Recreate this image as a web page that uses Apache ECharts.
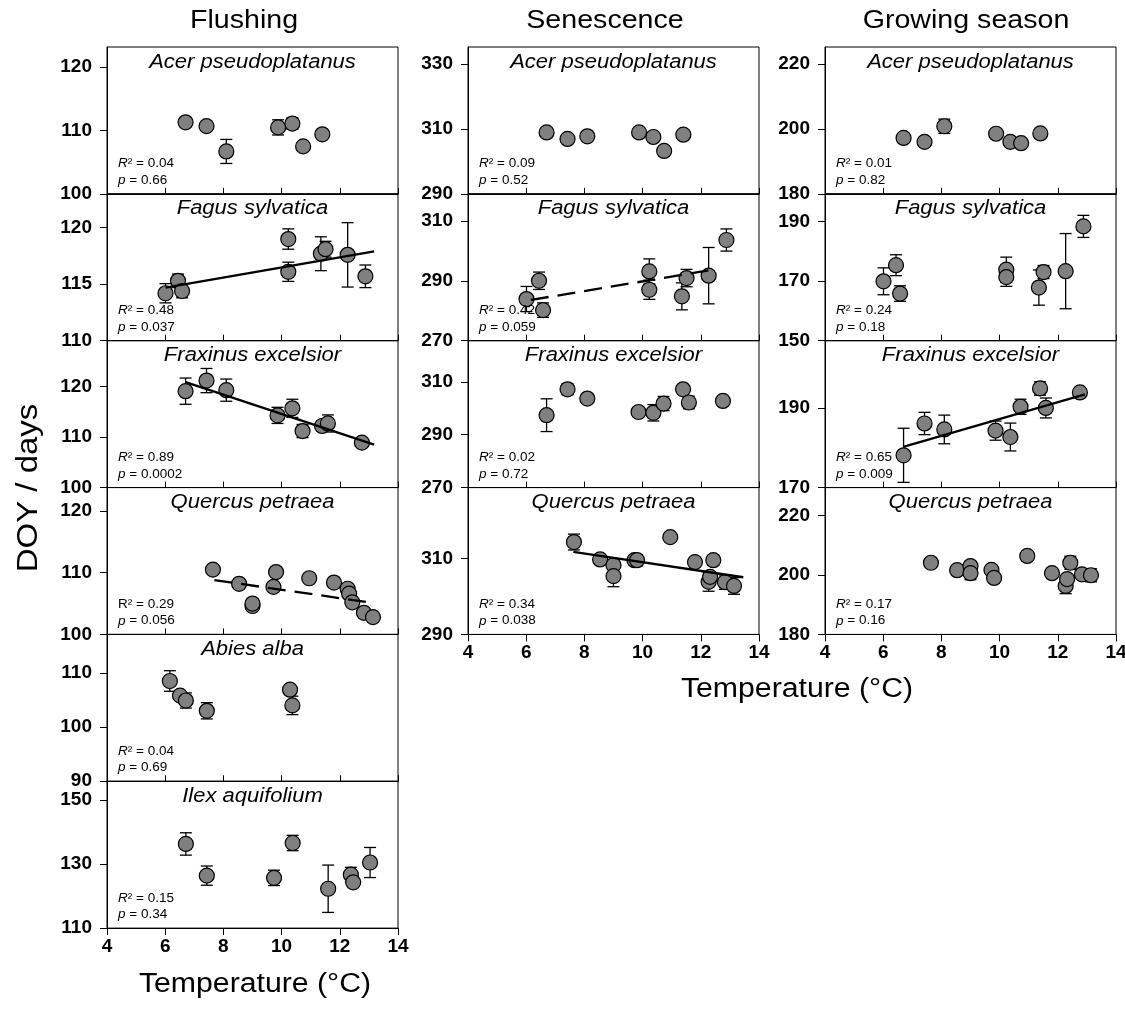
<!DOCTYPE html>
<html>
<head>
<meta charset="utf-8">
<script src="https://cdn.jsdelivr.net/npm/echarts@6/dist/echarts.min.js"></script>
<style>
  html, body { margin: 0; padding: 0; background: #fff; }
  #chart { width: 1125px; height: 1014px; }
</style>
</head>
<body>
<div id="chart"></div>
<script>
// ---------- data: mean temperature per site (°C) and mean DOY ± error ----------
const phases = ['Flushing', 'Senescence', 'Growing season'];

const acerTemp     = [6.7, 7.42, 8.1, 9.88, 10.37, 10.74, 11.4];
const fagusTemp    = [6.01, 6.44, 6.58, 10.23, 10.23, 11.35, 11.51, 12.27, 12.88];
const fraxinusTemp = [6.7, 7.42, 8.1, 9.86, 10.37, 10.72, 11.39, 11.59, 12.76];
const quercusTemp  = [7.64, 8.54, 9.0, 9.0, 9.72, 9.81, 10.95, 11.8, 12.27, 12.32, 12.43, 12.83, 13.14];
const abiesTemp    = [6.16, 6.51, 6.71, 7.43, 10.29, 10.37];
const ilexTemp     = [6.71, 7.43, 9.74, 10.38, 11.6, 12.38, 12.46, 13.04];

// Flushing
const flushAcer      = [111.3, 110.7, 106.7, 110.5, 111.1, 107.5, 109.4];
const flushAcerErr   = [0.7, 0.4, 1.9, 1.2, 0.9, 0.5, 0.5];
const flushFagus     = [114.2, 115.3, 114.4, 119.0, 116.1, 117.7, 118.1, 117.6, 115.7];
const flushFagusErr  = [0.85, 0.6, 0.6, 0.9, 0.85, 1.5, 0.7, 2.85, 1.0];
const flushFraxinus    = [119.1, 121.2, 119.3, 114.3, 115.7, 111.2, 112.2, 112.7, 108.9];
const flushFraxinusErr = [2.6, 2.4, 2.2, 1.6, 1.8, 1.3, 0.8, 1.7, 0.5];
const flushQuercus     = [110.5, 108.2, 104.6, 105.0, 107.7, 110.1, 109.1, 108.4, 107.4, 106.6, 105.2, 103.5, 102.8];
const flushQuercusErr  = [0.4, 0.4, 0.4, 0.4, 0.4, 0.4, 0.4, 0.4, 0.4, 0.4, 0.4, 0.4, 0.4];
const flushAbies     = [108.5, 105.8, 104.9, 103.0, 106.9, 104.0];
const flushAbiesErr  = [1.9, 0.7, 1.4, 1.5, 0.5, 1.7];
const flushIlex      = [136.3, 126.4, 125.7, 136.6, 122.3, 126.7, 124.3, 130.5];
const flushIlexErr   = [3.5, 3.0, 2.4, 2.4, 7.4, 2.3, 1.0, 4.7];

// Senescence
const senAcer        = [308.9, 306.9, 307.7, 308.9, 307.5, 303.2, 308.2];
const senAcerErr     = [0.6, 0.6, 0.6, 0.6, 0.6, 0.6, 0.6];
const senFagus       = [283.9, 290.0, 280.2, 293.1, 287.0, 284.8, 290.9, 291.7, 303.6];
const senFagusErr    = [4.2, 2.9, 2.4, 4.2, 3.2, 4.5, 2.9, 9.4, 3.7];
const senFraxinus    = [297.4, 307.2, 303.7, 298.6, 298.3, 301.8, 307.2, 302.2, 302.8];
const senFraxinusErr = [6.2, 2.1, 1.2, 1.0, 3.1, 2.7, 0.7, 2.4, 0.5];
const senQuercus     = [314.4, 309.8, 308.3, 305.4, 309.6, 309.6, 315.7, 309.1, 303.9, 305.2, 309.6, 303.8, 302.8];
const senQuercusErr  = [2.1, 0.8, 0.8, 2.8, 0.8, 1.5, 1.0, 0.8, 2.5, 0.8, 1.3, 1.9, 2.2];

// Growing season length
const growAcer        = [197.2, 196.0, 200.8, 198.5, 196.0, 195.6, 198.6];
const growAcerErr     = [0.6, 0.6, 2.2, 1.0, 0.6, 0.6, 0.6];
const growFagus       = [169.9, 175.3, 165.8, 173.8, 171.3, 167.8, 173.0, 173.3, 188.3];
const growFagusErr    = [4.5, 3.5, 2.6, 4.2, 3.1, 5.9, 2.2, 12.6, 3.7];
const growFraxinus    = [178.1, 186.1, 184.6, 184.3, 182.7, 190.3, 194.9, 190.0, 193.9];
const growFraxinusErr = [6.8, 2.8, 3.6, 2.4, 3.5, 1.9, 1.7, 2.5, 1.0];
const growQuercus     = [204.1, 201.6, 203.0, 200.6, 201.7, 199.0, 206.4, 200.6, 196.3, 198.6, 204.1, 200.2, 199.9];
const growQuercusErr  = [1.5, 0.6, 1.3, 2.2, 0.6, 0.6, 0.6, 0.6, 2.6, 1.0, 2.2, 0.6, 2.2];

// Regression lines (end points) and their statistics
const fitFlushFagus    = [[6.01, 114.7], [13.18, 117.9]];
const fitFlushFraxinus = [[6.7, 120.9], [13.18, 108.5]];
const fitFlushQuercus  = [[7.69, 108.8], [13.15, 105.1]];
const fitSenFagus      = [[6.16, 283.6], [12.55, 293.9]];
const fitSenQuercus    = [[7.62, 311.8], [13.46, 305.1]];
const fitGrowFraxinus  = [[6.69, 180.2], [12.93, 193.4]];

const flushStats = [['0.04', '0.66'], ['0.48', '0.037'], ['0.89', '0.0002'], ['0.29', '0.056'], ['0.04', '0.69'], ['0.15', '0.34']];
const senStats   = [['0.09', '0.52'], ['0.42', '0.059'], ['0.02', '0.72'], ['0.34', '0.038']];
const growStats  = [['0.01', '0.82'], ['0.24', '0.18'], ['0.65', '0.009'], ['0.17', '0.16']];

// y-axis ranges and tick labels per panel
const flushRange = [[100, 123.2], [110, 123], [100, 129.1], [100, 123.8], [90, 117.1], [110, 155.9]];
const flushTicks = [[100, 110, 120], [110, 115, 120], [100, 110, 120], [100, 110, 120], [90, 100, 110], [110, 130, 150]];
const senRange   = [[290, 335.2], [270, 319], [270, 325.6], [290, 328.8]];
const senTicks   = [[290, 310, 330], [270, 290, 310], [270, 290, 310], [290, 310]];
const growRange  = [[180, 225.2], [150, 199.2], [170, 206.9], [180, 229.4]];
const growTicks  = [[180, 200, 220], [150, 170, 190], [170, 190], [180, 200, 220]];
const xTicks = [4, 6, 8, 10, 12, 14];

// ---------- panel table ----------
const panels = [
  { col: 0, row: 0, name: 'Acer pseudoplatanus', t: acerTemp, v: flushAcer, e: flushAcerErr },
  { col: 0, row: 1, name: 'Fagus sylvatica', t: fagusTemp, v: flushFagus, e: flushFagusErr, fit: fitFlushFagus },
  { col: 0, row: 2, name: 'Fraxinus excelsior', t: fraxinusTemp, v: flushFraxinus, e: flushFraxinusErr, fit: fitFlushFraxinus },
  { col: 0, row: 3, name: 'Quercus petraea', t: quercusTemp, v: flushQuercus, e: flushQuercusErr, fit: fitFlushQuercus, dashed: true, uprightR: true },
  { col: 0, row: 4, name: 'Abies alba', t: abiesTemp, v: flushAbies, e: flushAbiesErr },
  { col: 0, row: 5, name: 'Ilex aquifolium', t: ilexTemp, v: flushIlex, e: flushIlexErr },
  { col: 1, row: 0, name: 'Acer pseudoplatanus', t: acerTemp, v: senAcer, e: senAcerErr },
  { col: 1, row: 1, name: 'Fagus sylvatica', t: fagusTemp, v: senFagus, e: senFagusErr, fit: fitSenFagus, dashed: true },
  { col: 1, row: 2, name: 'Fraxinus excelsior', t: fraxinusTemp, v: senFraxinus, e: senFraxinusErr },
  { col: 1, row: 3, name: 'Quercus petraea', t: quercusTemp, v: senQuercus, e: senQuercusErr, fit: fitSenQuercus },
  { col: 2, row: 0, name: 'Acer pseudoplatanus', t: acerTemp, v: growAcer, e: growAcerErr },
  { col: 2, row: 1, name: 'Fagus sylvatica', t: fagusTemp, v: growFagus, e: growFagusErr },
  { col: 2, row: 2, name: 'Fraxinus excelsior', t: fraxinusTemp, v: growFraxinus, e: growFraxinusErr, fit: fitGrowFraxinus },
  { col: 2, row: 3, name: 'Quercus petraea', t: quercusTemp, v: growQuercus, e: growQuercusErr }
];
const rangesByCol = [flushRange, senRange, growRange];
const ticksByCol  = [flushTicks, senTicks, growTicks];
const statsByCol  = [flushStats, senStats, growStats];

// ---------- layout ----------
const COL_LEFT = [107, 468, 825];
const PLOT_W = 291;
const TOP = 47;
const ROW_H = 146.85;
const LAST_ROW = [5, 3, 3];
const FONT = '"Liberation Sans", Arial, Helvetica, sans-serif';

const grids = [], xAxes = [], yAxes = [], series = [], graphics = [];

function text(x, y, str, size, opt) {
  opt = opt || {};
  return {
    type: 'text', x: x, y: y, silent: true, z: 100,
    rotation: opt.rotation || 0,
    scaleX: opt.sx || 1,
    style: {
      text: str, fill: '#000', fontSize: size, fontFamily: FONT,
      fontStyle: opt.italic ? 'italic' : 'normal',
      fontWeight: opt.bold ? 'bold' : 'normal',
      align: opt.align || 'center', verticalAlign: 'middle',
      textAlign: opt.align || 'center', textVerticalAlign: 'middle',
      rich: opt.rich
    }
  };
}

const statRich = {
  i: { fontSize: 13, fontFamily: FONT, fontStyle: 'italic', fill: '#000' },
  n: { fontSize: 13, fontFamily: FONT, fill: '#000' }
};

function errorBars(params, api) {
  const x = api.value(0), y = api.value(1), e = api.value(2);
  const hi = api.coord([x, y + e]);
  const lo = api.coord([x, y - e]);
  const half = 6;
  const st = { stroke: '#000', lineWidth: 1.3 };
  return {
    type: 'group',
    children: [
      { type: 'line', shape: { x1: hi[0], y1: hi[1], x2: lo[0], y2: lo[1] }, style: st },
      { type: 'line', shape: { x1: hi[0] - half, y1: hi[1], x2: hi[0] + half, y2: hi[1] }, style: st },
      { type: 'line', shape: { x1: lo[0] - half, y1: lo[1], x2: lo[0] + half, y2: lo[1] }, style: st }
    ]
  };
}

panels.forEach(function (p, i) {
  const left = COL_LEFT[p.col];
  const top = TOP + p.row * ROW_H;
  const bottom = top + ROW_H;
  const isBottom = p.row === LAST_ROW[p.col];
  const range = rangesByCol[p.col][p.row];
  const ticks = ticksByCol[p.col][p.row];
  const stats = statsByCol[p.col][p.row];

  grids.push({
    left: left, top: top, width: PLOT_W, height: ROW_H,
    show: true, borderColor: '#000', borderWidth: 1, backgroundColor: 'transparent',
    containLabel: false, outerBoundsMode: 'none'
  });

  xAxes.push({
    gridIndex: i, type: 'value', min: 4, max: 14, interval: 2,
    axisLine: { show: true, onZero: false, lineStyle: { color: '#000', width: 1 } },
    axisTick: { show: true, inside: !isBottom, length: isBottom ? 7 : 6, lineStyle: { color: '#000', width: 1 } },
    axisLabel: {
      show: isBottom, customValues: xTicks, margin: 9,
      color: '#000', fontFamily: FONT, fontWeight: 'bold', fontSize: 19
    },
    splitLine: { show: false }
  });

  yAxes.push({
    gridIndex: i, type: 'value', min: range[0], max: range[1],
    axisLine: { show: true, onZero: false, lineStyle: { color: '#000', width: 1 } },
    axisTick: { show: true, length: 7, customValues: ticks, lineStyle: { color: '#000', width: 1 } },
    axisLabel: {
      customValues: ticks, margin: 15,
      color: '#000', fontFamily: FONT, fontWeight: 'bold', fontSize: 19
    },
    splitLine: { show: false }
  });

  series.push({
    type: 'custom', xAxisIndex: i, yAxisIndex: i, z: 2, silent: true,
    renderItem: errorBars, encode: { x: 0, y: 1 },
    data: p.t.map(function (t, k) { return [t, p.v[k], p.e[k]]; })
  });

  series.push({
    type: 'scatter', xAxisIndex: i, yAxisIndex: i, z: 3, silent: true,
    symbol: 'circle', symbolSize: 15,
    itemStyle: { color: '#808080', borderColor: '#000', borderWidth: 1.2, opacity: 1 },
    data: p.t.map(function (t, k) { return [t, p.v[k]]; })
  });

  if (p.fit) {
    series.push({
      type: 'line', xAxisIndex: i, yAxisIndex: i, z: 4, silent: true,
      symbol: 'none', data: p.fit,
      lineStyle: { color: '#000', width: 2.3, type: p.dashed ? [18, 9] : 'solid' }
    });
  }

  // species name
  graphics.push(text(left + PLOT_W / 2, top + 15, p.name, 20, { italic: true, sx: 1.1 }));
  // R² and p
  const rTag = p.uprightR ? 'n' : 'i';
  graphics.push(text(left + 11, bottom - 30, '{' + rTag + '|R}{n|² = ' + stats[0] + '}', 13,
    { align: 'left', rich: statRich, sx: 1.04 }));
  graphics.push(text(left + 11, bottom - 13.5, '{i|p}{n| = ' + stats[1] + '}', 13,
    { align: 'left', rich: statRich, sx: 1.04 }));
});

// column headings and axis titles
graphics.push(text(244, 21, phases[0], 26, { sx: 1.1 }));
graphics.push(text(605, 21, phases[1], 26, { sx: 1.1 }));
graphics.push(text(966, 21, phases[2], 26, { sx: 1.1 }));
graphics.push(text(29, 488, 'DOY / days', 30, { rotation: Math.PI / 2, sx: 1.1 }));
graphics.push(text(255, 985, 'Temperature (°C)', 27, { sx: 1.12 }));
graphics.push(text(797, 690, 'Temperature (°C)', 27, { sx: 1.12 }));

const chart = echarts.init(document.getElementById('chart'), null, { renderer: 'canvas' });
chart.setOption({
  animation: false,
  backgroundColor: '#fff',
  grid: grids,
  xAxis: xAxes,
  yAxis: yAxes,
  series: series,
  graphic: graphics
});
</script>
</body>
</html>
